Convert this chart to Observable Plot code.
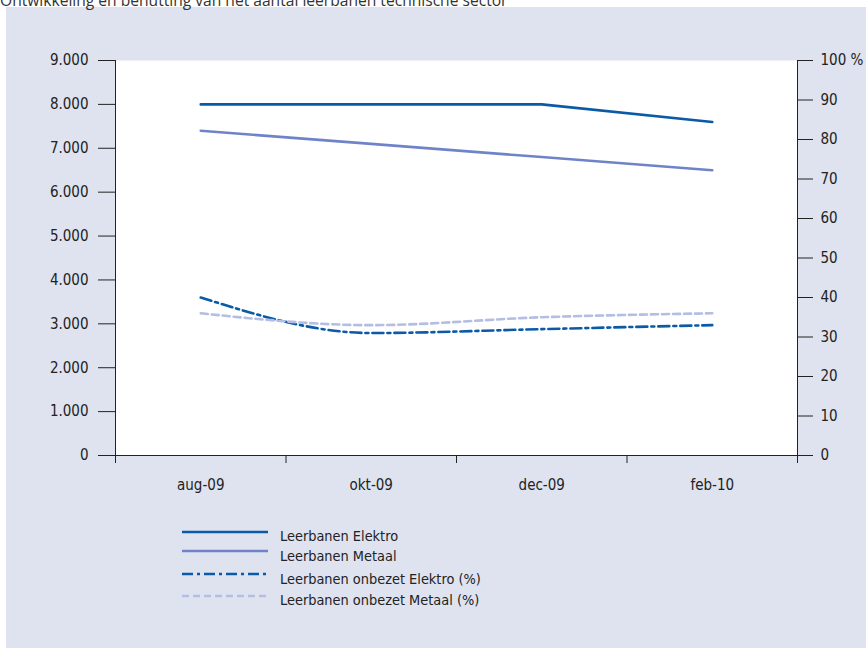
<!DOCTYPE html>
<html>
<head>
<meta charset="utf-8">
<script src="https://cdn.jsdelivr.net/npm/d3@7"></script>
<script src="https://cdn.jsdelivr.net/npm/@observablehq/plot@0.6"></script>
<style>
  html, body { margin: 0; padding: 0; background: #ffffff; }
  body { width: 866px; height: 651px; position: relative; overflow: hidden; }
  #title {
    position: absolute; left: 0; top: -9px; z-index: 2;
    font-family: "Open Sans", "Noto Sans", sans-serif; font-size: 15.6px; color: #333;
    white-space: nowrap; line-height: 1.2;
  }
  #panel {
    position: absolute; left: 6px; top: 7px; width: 860px; height: 641px;
    background: #dfe3f0; z-index: 1;
  }
  #chart { position: absolute; left: 0; top: 0; }
  .cond { font-family: "Liberation Sans Narrow", "DejaVu Sans Condensed", "Roboto Condensed", sans-serif; font-stretch: condensed; }
  #legend { position: absolute; left: 0; top: 0; width: 860px; height: 641px; pointer-events: none; }
  .leg-label { position: absolute; font-size: 14.4px; color: #222; white-space: nowrap; line-height: 1; }
</style>
</head>
<body>
<div id="title">Ontwikkeling en benutting van het aantal leerbanen technische sector</div>
<div id="panel">
  <div id="chart"></div>
  <div id="legend" class="cond"></div>
</div>
<script>
// Periods on the x axis
const months = ["aug-09", "okt-09", "dec-09", "feb-10"];
// Number of apprenticeships (left axis)
const elektro = [8000, 8000, 8000, 7600];
const metaal = [7400, 7100, 6800, 6500];
// Share of unfilled apprenticeships in % (right axis)
const onbezetElektro = [40, 31, 32, 33];
const onbezetMetaal = [36, 33, 35, 36];
// Axis ticks
const leftTicks = [0, 1000, 2000, 3000, 4000, 5000, 6000, 7000, 8000, 9000];
const rightTicks = [0, 10, 20, 30, 40, 50, 60, 70, 80, 90, 100];

// The percentage axis shares the count scale: 100 % sits at 9.000
const pctFactor = 9000 / 100;

const series = [
  {name: "Leerbanen Elektro", values: elektro, pct: false, stroke: "#0a5aa8", dash: null},
  {name: "Leerbanen Metaal", values: metaal, pct: false, stroke: "#6f84c8", dash: null},
  {name: "Leerbanen onbezet Elektro (%)", values: onbezetElektro, pct: true, stroke: "#0a5aa8", dash: "11,4,3,4"},
  {name: "Leerbanen onbezet Metaal (%)", values: onbezetMetaal, pct: true, stroke: "#b4bde2", dash: "7,4"}
];

const rows = s => s.values.map((v, i) => ({i, v: s.pct ? v * pctFactor : v}));

const fmtThousands = d => d3.format(",")(d).replace(/,/g, ".");
const fontFamily = '"Liberation Sans Narrow", "DejaVu Sans Condensed", "Roboto Condensed", sans-serif';

const chart = Plot.plot({
  width: 860,
  height: 641,
  marginLeft: 109,
  marginRight: 69,
  marginTop: 53,
  marginBottom: 193,
  style: {background: "transparent", fontFamily, fontSize: "15px", color: "#222", fontStretch: "condensed"},
  x: {domain: [-0.5, 3.5]},
  y: {domain: [0, 9000]},
  marks: [
    Plot.frame({fill: "white", stroke: null}),
    Plot.axisY({ticks: leftTicks, tickSize: 17, tickPadding: 10, tickFormat: fmtThousands, label: null, stroke: "#222", strokeOpacity: 1}),
    Plot.axisY({anchor: "right", ticks: rightTicks.map(p => p * pctFactor), tickSize: 15, tickPadding: 8,
      tickFormat: v => { const p = Math.round(v / pctFactor); return p === 100 ? "100 %" : String(p); },
      label: null, stroke: "#222", strokeOpacity: 1}),
    Plot.axisX({ticks: [-0.5, 0.5, 1.5, 2.5, 3.5], tickSize: 8, tickFormat: () => "", label: null, stroke: "#222", strokeOpacity: 1}),
    Plot.axisX({ticks: [0, 1, 2, 3], tickSize: 0, tickPadding: 24, tickFormat: i => months[i], label: null}),
    Plot.ruleX([-0.5, 3.5], {stroke: "#222", strokeWidth: 1}),
    Plot.ruleY([0], {stroke: "#222", strokeWidth: 1}),
    ...series.map(s => Plot.line(rows(s), {
      x: "i", y: "v", stroke: s.stroke, strokeWidth: 2.6,
      strokeDasharray: s.dash, curve: s.pct ? "monotone-x" : "linear"
    }))
  ]
});
document.getElementById("chart").appendChild(chart);

// Legend below the plot
const legend = document.getElementById("legend");
const legendRows = [
  {lineY: 525, textY: 522},
  {lineY: 544, textY: 542},
  {lineY: 567, textY: 565},
  {lineY: 589, textY: 586}
];
const ns = "http://www.w3.org/2000/svg";
const svg = document.createElementNS(ns, "svg");
svg.setAttribute("width", 860);
svg.setAttribute("height", 641);
svg.style.position = "absolute";
svg.style.left = "0"; svg.style.top = "0";
legend.appendChild(svg);
series.forEach((s, k) => {
  const r = legendRows[k];
  const ln = document.createElementNS(ns, "line");
  ln.setAttribute("x1", 176); ln.setAttribute("x2", 262);
  ln.setAttribute("y1", r.lineY); ln.setAttribute("y2", r.lineY);
  ln.setAttribute("stroke", s.stroke);
  ln.setAttribute("stroke-width", 2.6);
  if (s.dash) ln.setAttribute("stroke-dasharray", s.dash);
  svg.appendChild(ln);
  const t = document.createElement("div");
  t.className = "leg-label";
  t.style.left = "274px";
  t.style.top = r.textY + "px";
  t.textContent = s.name;
  legend.appendChild(t);
});
</script>
</body>
</html>
